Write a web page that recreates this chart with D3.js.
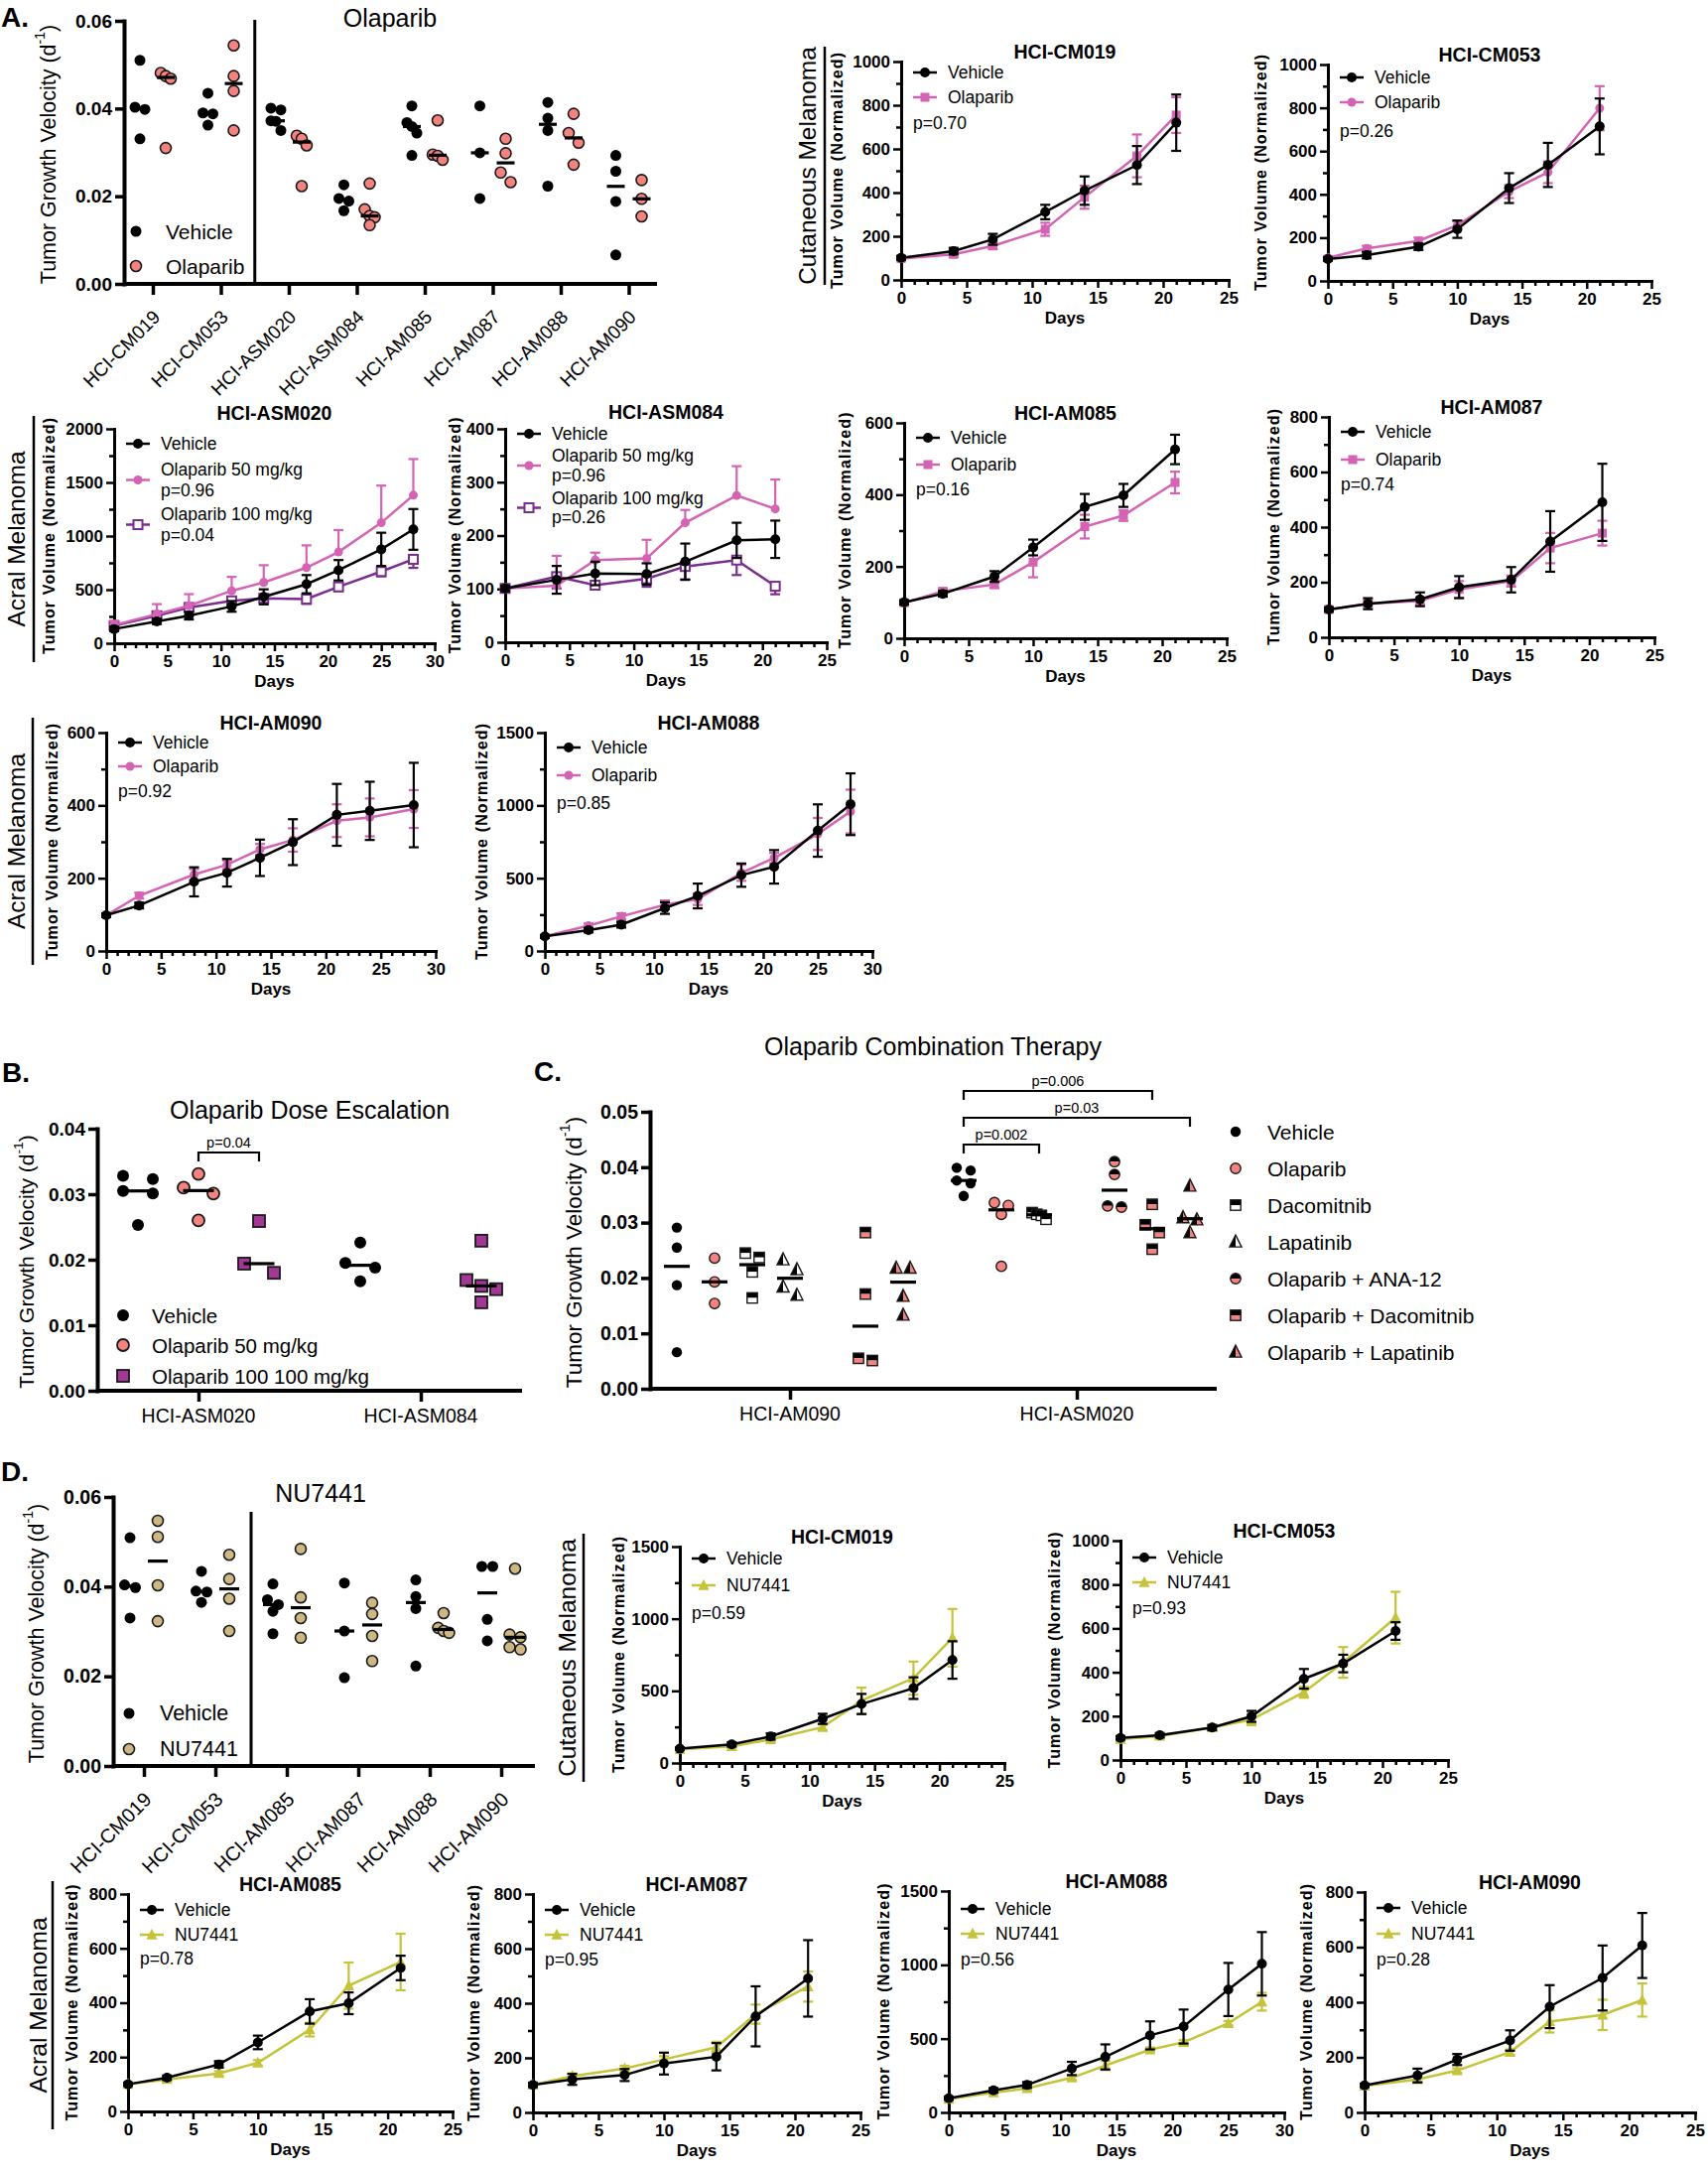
<!DOCTYPE html>
<html>
<head>
<meta charset="utf-8">
<script src="https://cdn.jsdelivr.net/npm/d3@7"></script>
<style>
  body { margin: 0; background: #fff; }
</style>
</head>
<body>
<script>

// ===========================================================================
// Data

// A. growth velocity, Olaparib
var aModels = ['HCI-CM019', 'HCI-CM053', 'HCI-ASM020', 'HCI-ASM084', 'HCI-AM085', 'HCI-AM087', 'HCI-AM088', 'HCI-AM090'];
var aVehicle = [
    [0.0510, 0.0403, 0.0398, 0.0331],
    [0.0435, 0.0390, 0.0388, 0.0362],
    [0.0401, 0.0397, 0.0372, 0.0371, 0.0350],
    [0.0226, 0.0195, 0.0189, 0.0167],
    [0.0406, 0.0368, 0.0359, 0.0344, 0.0293],
    [0.0406, 0.0299, 0.0195],
    [0.0414, 0.0378, 0.0350, 0.0223],
    [0.0293, 0.0257, 0.0188, 0.0066]
];
var aOlaparib = [
    [0.0481, 0.0474, 0.0468, 0.0310],
    [0.0544, 0.0474, 0.0440, 0.0350],
    [0.0338, 0.0331, 0.0316, 0.0223],
    [0.0229, 0.0170, 0.0155, 0.0152, 0.0134],
    [0.0373, 0.0295, 0.0292, 0.0283],
    [0.0331, 0.0298, 0.0254, 0.0232],
    [0.0388, 0.0344, 0.0322, 0.0272],
    [0.0237, 0.0194, 0.0154]
];

// A. tumor volume curves (mean, SEM)
var aCM019Days = [0, 4, 7, 11, 14, 18, 21];
var aCM019Veh = [101, 132, 186, 311, 409, 526, 720];
var aCM019VehErr = [8, 15, 25, 33, 65, 87, 129];
var aCM019Ola = [98, 117, 156, 232, 379, 568, 755];
var aCM019OlaErr = [10, 12, 15, 30, 53, 98, 82];

var aCM053Days = [0, 3, 7, 10, 14, 17, 21];
var aCM053Veh = [101, 119, 158, 239, 429, 536, 714];
var aCM053VehErr = [8, 15, 15, 40, 69, 102, 129];
var aCM053Ola = [107, 150, 185, 257, 413, 502, 798];
var aCM053OlaErr = [8, 12, 15, 20, 30, 50, 102];

var aASM020Days = [0, 4, 7, 11, 14, 18, 21, 25, 28];
var aASM020Veh = [133, 204, 257, 344, 433, 551, 681, 876, 1062];
var aASM020VehErr = [20, 25, 35, 50, 70, 85, 95, 155, 190];
var aASM020Ola50 = [170, 272, 350, 489, 567, 706, 851, 1124, 1381];
var aASM020Ola50Err = [40, 93, 108, 130, 161, 207, 205, 347, 337];
var aASM020Ola100 = [164, 257, 334, 396, 420, 412, 526, 669, 783];
var aASM020Ola100Err = [20, 30, 35, 40, 50, 45, 40, 45, 80];

var aASM084Days = [0, 4, 7, 11, 14, 18, 21];
var aASM084Veh = [101, 117, 129, 128, 151, 191, 193];
var aASM084VehErr = [5, 26, 22, 20, 34, 33, 35];
var aASM084Ola50 = [101, 106, 154, 157, 224, 275, 250];
var aASM084Ola50Err = [5, 56, 14, 35, 24, 55, 55];
var aASM084Ola100 = [101, 123, 107, 119, 142, 154, 105];
var aASM084Ola100Err = [5, 22, 8, 15, 24, 28, 15];

var aAM085Days = [0, 3, 7, 10, 14, 17, 21];
var aAM085Veh = [100, 124, 172, 253, 366, 398, 526];
var aAM085VehErr = [6, 8, 15, 22, 36, 32, 41];
var aAM085Ola = [99, 131, 150, 212, 311, 342, 434];
var aAM085OlaErr = [6, 8, 10, 42, 33, 15, 30];

var aAM087Days = [0, 3, 7, 10, 14, 17, 21];
var aAM087Veh = [101, 122, 138, 182, 209, 348, 490];
var aAM087VehErr = [8, 20, 25, 40, 46, 110, 140];
var aAM087Ola = [101, 122, 132, 174, 204, 324, 378];
var aAM087OlaErr = [8, 12, 12, 30, 20, 55, 45];

var aAM090Days = [0, 3, 8, 11, 14, 17, 21, 24, 28];
var aAM090Veh = [98, 125, 190, 215, 256, 299, 374, 385, 401];
var aAM090VehErr = [5, 8, 40, 38, 50, 63, 85, 80, 116];
var aAM090Ola = [98, 152, 210, 237, 279, 305, 358, 367, 390];
var aAM090OlaErr = [5, 8, 15, 12, 15, 32, 45, 52, 52];

var aAM088Days = [0, 4, 7, 11, 14, 18, 21, 25, 28];
var aAM088Veh = [100, 143, 181, 295, 378, 521, 578, 827, 1008];
var aAM088VehErr = [10, 15, 20, 40, 85, 80, 115, 180, 212];
var aAM088Ola = [100, 174, 238, 317, 356, 537, 639, 804, 958];
var aAM088OlaErr = [10, 15, 20, 30, 40, 55, 35, 110, 150];

// B. dose escalation
var bModels = ['HCI-ASM020', 'HCI-ASM084'];
var bVehicle = [[0.0328, 0.0323, 0.0305, 0.0301, 0.0253], [0.0226, 0.0195, 0.0188, 0.0167]];
var bOla50 = [[0.0331, 0.0310, 0.0301, 0.0260], []];
var bOla100 = [[0.0259, 0.0194, 0.0180], [0.0229, 0.0169, 0.0160, 0.0155, 0.0135]];

// C. combination therapy
var cModels = ['HCI-AM090', 'HCI-ASM020'];
var cVehicle = [[0.0291, 0.0255, 0.0187, 0.0066], [0.0399, 0.0394, 0.0376, 0.0371, 0.0348]];
var cOlaparib = [[0.0236, 0.0193, 0.0154], [0.0336, 0.0331, 0.0315, 0.0221]];
var cDacomitnib = [[0.0245, 0.0237, 0.0211, 0.0164], [0.0318, 0.0315, 0.0313, 0.0306]];
var cLapatinib = [[0.0233, 0.0215, 0.0184, 0.0169], []];
var cOlaAna12 = [[], [0.0410, 0.0387, 0.0330, 0.0328]];
var cOlaDaco = [[0.0282, 0.0171, 0.0055, 0.0051], [0.0333, 0.0296, 0.0282, 0.0252]];
var cOlaLapa = [[0.0218, 0.0218, 0.0167, 0.0133], [0.0366, 0.0309, 0.0305, 0.0282]];
var cPvalues = ['p=0.002', 'p=0.03', 'p=0.006'];

// D. growth velocity, NU7441
var dModels = ['HCI-CM019', 'HCI-CM053', 'HCI-AM085', 'HCI-AM087', 'HCI-AM088', 'HCI-AM090'];
var dVehicle = [
    [0.0509, 0.0404, 0.0398, 0.0330],
    [0.0434, 0.0390, 0.0388, 0.0365],
    [0.0406, 0.0371, 0.0360, 0.0345, 0.0295],
    [0.0408, 0.0301, 0.0197],
    [0.0415, 0.0378, 0.0351, 0.0223],
    [0.0445, 0.0445, 0.0327, 0.0279]
];
var dNU7441 = [
    [0.0547, 0.0511, 0.0403, 0.0323],
    [0.0471, 0.0417, 0.0373, 0.0301],
    [0.0484, 0.0376, 0.0330, 0.0286],
    [0.0364, 0.0339, 0.0290, 0.0234],
    [0.0341, 0.0308, 0.0301, 0.0297],
    [0.0440, 0.0293, 0.0287, 0.0265, 0.0260]
];

// D. tumor volume curves
var dCM019Days = [0, 4, 7, 11, 14, 18, 21];
var dCM019Veh = [99, 129, 184, 306, 409, 519, 714];
var dCM019VehErr = [8, 15, 22, 35, 70, 75, 130];
var dCM019Nu = [94, 115, 163, 248, 432, 588, 868];
var dCM019NuErr = [8, 10, 12, 20, 90, 115, 200];

var dCM053Days = [0, 3, 7, 10, 14, 17, 21];
var dCM053Veh = [101, 113, 148, 199, 370, 440, 588];
var dCM053VehErr = [8, 10, 12, 25, 45, 40, 40];
var dCM053Nu = [95, 109, 148, 184, 309, 445, 649];
var dCM053NuErr = [8, 8, 10, 25, 25, 70, 118];

var dAM085Days = [0, 3, 7, 10, 14, 17, 21];
var dAM085Veh = [100, 124, 173, 254, 368, 398, 528];
var dAM085VehErr = [6, 8, 12, 25, 45, 40, 45];
var dAM085Nu = [100, 118, 140, 179, 301, 463, 550];
var dAM085NuErr = [6, 8, 8, 10, 25, 85, 104];

var dAM087Days = [0, 3, 7, 10, 14, 17, 21];
var dAM087Veh = [101, 121, 137, 179, 204, 352, 491];
var dAM087VehErr = [8, 20, 22, 40, 50, 110, 140];
var dAM087Nu = [101, 133, 161, 194, 239, 360, 461];
var dAM087NuErr = [8, 10, 10, 12, 20, 35, 55];

var dAM088Days = [0, 4, 7, 11, 14, 18, 21, 25, 28];
var dAM088Veh = [96, 150, 186, 298, 376, 522, 582, 833, 1007];
var dAM088VehErr = [10, 15, 20, 45, 85, 95, 115, 180, 215];
var dAM088Nu = [90, 134, 163, 235, 318, 425, 475, 604, 750];
var dAM088NuErr = [8, 10, 12, 15, 30, 15, 15, 15, 60];

var dAM090Days = [0, 4, 7, 11, 14, 18, 21];
var dAM090Veh = [98, 134, 192, 261, 384, 488, 606];
var dAM090VehErr = [6, 25, 20, 37, 78, 118, 118];
var dAM090Nu = [96, 120, 152, 219, 330, 354, 408];
var dAM090NuErr = [6, 8, 8, 10, 40, 55, 60];


// ===========================================================================
// Helpers

var FONT = '"Liberation Sans", Arial, Helvetica, sans-serif';
var PINK = '#d464b3';
var PURPLE = '#7b2d8e';
var OLIVE = '#c4c33a';
var SALMON = '#f4837f';
var SQPURPLE = '#a23796';
var TAN = '#cdb883';
var EDGE = '#1a1a1a';

var svg = d3.select('body').append('svg')
    .attr('width', 1721)
    .attr('height', 2186)
    .attr('font-family', FONT);

function txt(g, x, y, s, size, o) {
    o = o || {};
    var t = g.append('text')
        .attr('x', x).attr('y', y)
        .attr('font-size', size)
        .attr('fill', '#000')
        .text(s);
    if (o.bold) t.attr('font-weight', 'bold');
    if (o.anchor) t.attr('text-anchor', o.anchor);
    if (o.base) t.attr('dominant-baseline', o.base);
    if (o.rotate) t.attr('transform', 'rotate(' + o.rotate + ',' + x + ',' + y + ')');
    return t;
}

function seg(g, x1, y1, x2, y2, color, w) {
    return g.append('line')
        .attr('x1', x1).attr('y1', y1).attr('x2', x2).attr('y2', y2)
        .attr('stroke', color).attr('stroke-width', w);
}

function triPath(cx, cy, r) {
    return 'M' + cx + ',' + (cy - 1.15 * r) + 'L' + (cx + r) + ',' + (cy + 0.85 * r) +
        'L' + (cx - r) + ',' + (cy + 0.85 * r) + 'Z';
}

// draw one marker of a given shape
function drawMarker(g, m, cx, cy) {
    var r = m.r;
    var stroke = m.stroke || 'none';
    var sw = m.sw || 0;
    if (m.shape === 'circle') {
        g.append('circle').attr('cx', cx).attr('cy', cy).attr('r', r)
            .attr('fill', m.fill).attr('stroke', stroke).attr('stroke-width', sw);
    } else if (m.shape === 'square') {
        g.append('rect').attr('x', cx - r).attr('y', cy - r)
            .attr('width', 2 * r).attr('height', 2 * r)
            .attr('fill', m.fill).attr('stroke', stroke).attr('stroke-width', sw);
    } else if (m.shape === 'triangle') {
        g.append('path').attr('d', triPath(cx, cy, r))
            .attr('fill', m.fill).attr('stroke', stroke).attr('stroke-width', sw);
    } else if (m.shape === 'halfCircle') {
        g.append('path').attr('d', 'M' + (cx - r) + ',' + cy + 'A' + r + ',' + r + ' 0 0 1 ' + (cx + r) + ',' + cy + 'Z')
            .attr('fill', '#000');
        g.append('path').attr('d', 'M' + (cx - r) + ',' + cy + 'A' + r + ',' + r + ' 0 0 0 ' + (cx + r) + ',' + cy + 'Z')
            .attr('fill', m.fill);
        g.append('circle').attr('cx', cx).attr('cy', cy).attr('r', r)
            .attr('fill', 'none').attr('stroke', EDGE).attr('stroke-width', 1.4);
    } else if (m.shape === 'halfSquare') {
        g.append('rect').attr('x', cx - r).attr('y', cy - r).attr('width', 2 * r).attr('height', r).attr('fill', '#000');
        g.append('rect').attr('x', cx - r).attr('y', cy).attr('width', 2 * r).attr('height', r).attr('fill', m.fill);
        g.append('rect').attr('x', cx - r).attr('y', cy - r).attr('width', 2 * r).attr('height', 2 * r)
            .attr('fill', 'none').attr('stroke', EDGE).attr('stroke-width', 1.4);
    } else if (m.shape === 'halfTriangle') {
        g.append('path').attr('d', 'M' + cx + ',' + (cy - 1.15 * r) + 'L' + cx + ',' + (cy + 0.85 * r) + 'L' + (cx - r) + ',' + (cy + 0.85 * r) + 'Z')
            .attr('fill', '#000');
        g.append('path').attr('d', 'M' + cx + ',' + (cy - 1.15 * r) + 'L' + (cx + r) + ',' + (cy + 0.85 * r) + 'L' + cx + ',' + (cy + 0.85 * r) + 'Z')
            .attr('fill', m.fill);
        g.append('path').attr('d', triPath(cx, cy, r))
            .attr('fill', 'none').attr('stroke', EDGE).attr('stroke-width', 1.4);
    }
}

// horizontal spread of points that would overlap (symmetric, like a dot plot)
function swarm(vals, y, r, halfW) {
    var idx = vals.map(function (v, i) { return i; })
        .sort(function (a, b) { return vals[b] - vals[a]; });
    var bins = [];
    idx.forEach(function (i) {
        var last = bins[bins.length - 1];
        if (last && Math.abs(y(vals[last[0]]) - y(vals[i])) < 2 * r) last.push(i);
        else bins.push([i]);
    });
    var off = vals.map(function () { return 0; });
    bins.forEach(function (b) {
        var n = b.length;
        if (n > 1) b.forEach(function (i, k) { off[i] = -halfW + 2 * halfW * k / (n - 1); });
    });
    return off;
}

function styleAxis(s, size, tickW, domW) {
    s.attr('font-family', FONT).attr('font-size', size).attr('font-weight', 'bold');
    s.selectAll('.tick line').attr('stroke', '#000').attr('stroke-width', tickW);
    s.selectAll('.tick text').attr('fill', '#000');
    s.select('.domain').attr('stroke', '#000').attr('stroke-width', domW).attr('stroke-linecap', 'square');
}

function volumeLabel(g, cx, cy) {
    g.append('text')
        .attr('transform', 'translate(' + cx + ',' + cy + ') rotate(-90)')
        .attr('text-anchor', 'middle')
        .attr('dominant-baseline', 'central')
        .attr('font-size', 16)
        .attr('font-weight', 'bold')
        .attr('textLength', 238)
        .attr('lengthAdjust', 'spacing')
        .text('Tumor Volume (Normalized)');
}

function velocityLabel(g, cx, cy, size) {
    var t = g.append('text')
        .attr('transform', 'translate(' + cx + ',' + cy + ') rotate(-90)')
        .attr('text-anchor', 'middle')
        .attr('dominant-baseline', 'central')
        .attr('font-size', size);
    t.append('tspan').text('Tumor Growth Velocity (d');
    t.append('tspan').attr('dy', -size * 0.4).attr('font-size', size * 0.65).text('-1');
    t.append('tspan').attr('dy', size * 0.4).text(')');
}

// label for a row of tumor volume panels, with its bar
function rowLabel(x, lineX, y1, y2, label) {
    var g = svg.append('g');
    txt(g, x, (y1 + y2) / 2, label, 24.5, { anchor: 'middle', base: 'central', rotate: -90 });
    seg(g, lineX, y1, lineX, y2, '#000', 2.5);
}

// tumor volume vs days panel
function lineChart(c) {
    var g = svg.append('g');
    var x = d3.scaleLinear().domain([0, c.xMax]).range([c.left, c.right]);
    var y = d3.scaleLinear().domain([0, c.yMax]).range([c.bottom, c.top]);

    // minor ticks
    g.append('g').attr('transform', 'translate(' + c.left + ',0)')
        .call(d3.axisLeft(y).tickValues(d3.range(c.yStep / 2, c.yMax, c.yStep)).tickSize(5).tickFormat(''))
        .call(function (s) { s.select('.domain').remove(); s.selectAll('line').attr('stroke-width', 2.5); });
    g.append('g').attr('transform', 'translate(0,' + c.bottom + ')')
        .call(d3.axisBottom(x).tickValues(d3.range(1, c.xMax).filter(function (d) { return d % 5; })).tickSize(5).tickFormat(''))
        .call(function (s) { s.select('.domain').remove(); s.selectAll('line').attr('stroke-width', 2.5); });

    // major ticks
    g.append('g').attr('transform', 'translate(' + c.left + ',0)')
        .call(d3.axisLeft(y).tickValues(d3.range(0, c.yMax + 1, c.yStep)).tickSize(8).tickSizeOuter(0)
            .tickPadding(3).tickFormat(d3.format('d')))
        .call(styleAxis, 17, 2.5, 3);
    g.append('g').attr('transform', 'translate(0,' + c.bottom + ')')
        .call(d3.axisBottom(x).tickValues(d3.range(0, c.xMax + 1, 5)).tickSize(8).tickSizeOuter(0)
            .tickPadding(4).tickFormat(d3.format('d')))
        .call(styleAxis, 17, 2.5, 3);

    // series, treatment first so Vehicle stays on top
    c.series.slice().reverse().forEach(function (s) {
        var pts = c.days.map(function (d, i) { return { d: d, m: s.mean[i], e: s.err[i] }; });
        g.append('path').datum(pts)
            .attr('fill', 'none').attr('stroke', s.color).attr('stroke-width', 2.5)
            .attr('d', d3.line().x(function (p) { return x(p.d); }).y(function (p) { return y(p.m); }));
        pts.forEach(function (p) {
            var hi = s.dir === 'down' ? p.m : p.m + p.e;
            var lo = s.dir === 'up' ? p.m : p.m - p.e;
            var px = x(p.d);
            seg(g, px, y(lo), px, y(hi), s.color, 2.2);
            if (s.dir !== 'down') seg(g, px - 5, y(hi), px + 5, y(hi), s.color, 2.2);
            if (s.dir !== 'up') seg(g, px - 5, y(lo), px + 5, y(lo), s.color, 2.2);
        });
        pts.forEach(function (p) { drawMarker(g, s.marker, x(p.d), y(p.m)); });
    });

    // legend
    var lx = c.left + 12;
    c.series.forEach(function (s, i) {
        var ty = c.top + c.rows[i];
        var my = s.p ? ty + (c.pRows[i] - c.rows[i]) / 2 : ty;
        seg(g, lx, my, lx + 24, my, s.color, 2.5);
        drawMarker(g, s.marker, lx + 12, my);
        txt(g, c.left + 47, ty, s.label, 17.5, { base: 'central' });
        if (s.p) txt(g, c.left + 47, c.top + c.pRows[i], s.p, 17.5, { base: 'central' });
    });
    if (c.p) txt(g, lx, c.top + c.pRow, c.p, 17.5, { base: 'central' });

    txt(g, (c.left + c.right) / 2, c.top - (c.titleUp || 3), c.title, 19.5, { bold: true, anchor: 'middle' });
    txt(g, (c.left + c.right) / 2, c.bottom + 44, 'Days', 17, { bold: true, anchor: 'middle' });
    volumeLabel(g, c.left - c.labelOff, (c.top + c.bottom) / 2);
}

// growth velocity dot plot panel
function dotChart(c) {
    var g = svg.append('g');
    var y = d3.scaleLinear().domain([0, c.yMax]).range([c.bottom, c.top]);
    var x = d3.scalePoint().domain(c.categories).range([c.firstTick, c.lastTick]);

    g.append('g').attr('transform', 'translate(' + c.left + ',0)')
        .call(d3.axisLeft(y).tickValues(c.yTicks).tickSize(9).tickSizeOuter(0).tickPadding(3).tickFormat(d3.format('.2f')))
        .call(styleAxis, c.tickFont, 3.5, 4);
    g.append('g').attr('transform', 'translate(0,' + c.bottom + ')')
        .call(d3.axisBottom(x).tickSize(11).tickSizeOuter(0).tickFormat(''))
        .call(function (s) { s.select('.domain').remove(); s.selectAll('line').attr('stroke', '#000').attr('stroke-width', 3.5); });
    seg(g, c.left, c.bottom, c.right, c.bottom, '#000', 4);

    if (c.divider) {
        var dx = (x(c.categories[c.divider - 1]) + x(c.categories[c.divider])) / 2;
        seg(g, dx, c.dividerTop, dx, c.bottom, '#000', 3);
    }

    // category labels
    c.categories.forEach(function (cat) {
        if (c.rotate) {
            var px = x(cat) + 4, py = c.bottom + 30;
            g.append('text')
                .attr('transform', 'translate(' + px + ',' + py + ') rotate(-45)')
                .attr('text-anchor', 'end').attr('dominant-baseline', 'central')
                .attr('font-size', c.catFont).text(cat);
        } else {
            txt(g, x(cat), c.bottom + 32, cat, c.catFont, { anchor: 'middle' });
        }
    });

    // points and medians
    c.groups.forEach(function (grp) {
        c.categories.forEach(function (cat, ci) {
            var vals = grp.values[ci];
            if (!vals.length) return;
            var cx = x(cat) + grp.offset;
            var off = swarm(vals, y, grp.marker.r, c.halfW);
            vals.forEach(function (v, i) { drawMarker(g, grp.marker, cx + off[i], y(v)); });
            var md = y(d3.median(vals));
            seg(g, cx - c.medW / 2, md, cx + c.medW / 2, md, '#000', 3.2);
        });
    });

    // legend
    c.groups.forEach(function (grp, i) {
        var ly = c.legend.rows[i];
        drawMarker(g, grp.marker, c.legend.x, ly);
        txt(g, c.legend.textX, ly, grp.label, c.legend.font, { base: 'central' });
    });

    if (c.title) txt(g, c.title.x, c.title.y, c.title.text, 25, { anchor: 'middle' });
    velocityLabel(g, c.yLabelX, (c.top + c.bottom) / 2 + 2, c.yLabelFont);
    return { g: g, x: x, y: y };
}

function bracket(g, x1, x2, by, label) {
    g.append('path')
        .attr('d', 'M' + x1 + ',' + (by + 9) + 'V' + by + 'H' + x2 + 'V' + (by + 9))
        .attr('fill', 'none').attr('stroke', '#000').attr('stroke-width', 2.2);
    txt(g, (x1 + x2) / 2, by - 5, label, 14.5, { anchor: 'middle' });
}


// ===========================================================================
// Panel letters

txt(svg, 1, 27, 'A.', 28, { bold: true });
txt(svg, 2, 1090, 'B.', 28, { bold: true });
txt(svg, 538, 1089, 'C.', 28, { bold: true });
txt(svg, 1, 1492, 'D.', 28, { bold: true });


// ===========================================================================
// A. dot plot

var circV = { shape: 'circle', r: 5.5, fill: '#000' };
dotChart({
    left: 125, right: 662, top: 21, bottom: 286,
    yMax: 0.06, yTicks: [0, 0.02, 0.04, 0.06], tickFont: 19,
    categories: aModels, firstTick: 154, lastTick: 633.5,
    rotate: true, catFont: 19,
    divider: 2, dividerTop: 20,
    halfW: 5, medW: 18,
    groups: [
        { label: 'Vehicle', values: aVehicle, offset: -13, marker: circV },
        { label: 'Olaparib', values: aOlaparib, offset: 13, marker: { shape: 'circle', r: 5.5, fill: SALMON, stroke: EDGE, sw: 1.6 } }
    ],
    legend: { x: 137, textX: 167, rows: [233, 268], font: 21 },
    title: { x: 393, y: 27, text: 'Olaparib' },
    yLabelX: 49, yLabelFont: 21.5
});

// A. tumor volume curves

var mVeh = { shape: 'circle', r: 5, fill: '#000' };
var mOlaSq = { shape: 'square', r: 4.5, fill: PINK };
var mOlaCi = { shape: 'circle', r: 4.5, fill: PINK };
var mOla100 = { shape: 'square', r: 4.5, fill: '#fff', stroke: PURPLE, sw: 2 };
var mNu = { shape: 'triangle', r: 5.5, fill: OLIVE };

rowLabel(813, 831, 47, 287, 'Cutaneous Melanoma');
rowLabel(16, 34, 419, 667, 'Acral Melanoma');
rowLabel(16, 33, 723, 972, 'Acral Melanoma');

lineChart({
    title: 'HCI-CM019', left: 908, right: 1238, top: 62, bottom: 282,
    xMax: 25, yMax: 1000, yStep: 200, labelOff: 65,
    days: aCM019Days,
    series: [
        { label: 'Vehicle', mean: aCM019Veh, err: aCM019VehErr, color: '#000', marker: mVeh },
        { label: 'Olaparib', mean: aCM019Ola, err: aCM019OlaErr, color: PINK, marker: mOlaSq }
    ],
    rows: [11, 36], p: 'p=0.70', pRow: 62
});

lineChart({
    title: 'HCI-CM053', left: 1338, right: 1664, top: 65, bottom: 283,
    xMax: 25, yMax: 1000, yStep: 200, labelOff: 68,
    days: aCM053Days,
    series: [
        { label: 'Vehicle', mean: aCM053Veh, err: aCM053VehErr, color: '#000', marker: mVeh },
        { label: 'Olaparib', mean: aCM053Ola, err: aCM053OlaErr, color: PINK, marker: mOlaCi }
    ],
    rows: [13, 38], p: 'p=0.26', pRow: 67
});

lineChart({
    title: 'HCI-ASM020', titleUp: 9, left: 115, right: 438, top: 432, bottom: 648,
    xMax: 30, yMax: 2000, yStep: 500, labelOff: 66,
    days: aASM020Days,
    series: [
        { label: 'Vehicle', mean: aASM020Veh, err: aASM020VehErr, color: '#000', marker: mVeh },
        { label: 'Olaparib 50 mg/kg', p: 'p=0.96', mean: aASM020Ola50, err: aASM020Ola50Err, color: PINK, marker: mOlaCi, dir: 'up' },
        { label: 'Olaparib 100 mg/kg', p: 'p=0.04', mean: aASM020Ola100, err: aASM020Ola100Err, color: PURPLE, marker: mOla100, dir: 'down' }
    ],
    rows: [15, 41, 86], pRows: [0, 62, 107]
});

lineChart({
    title: 'HCI-ASM084', titleUp: 10, left: 509, right: 833, top: 432, bottom: 647,
    xMax: 25, yMax: 400, yStep: 100, labelOff: 51,
    days: aASM084Days,
    series: [
        { label: 'Vehicle', mean: aASM084Veh, err: aASM084VehErr, color: '#000', marker: mVeh },
        { label: 'Olaparib 50 mg/kg', p: 'p=0.96', mean: aASM084Ola50, err: aASM084Ola50Err, color: PINK, marker: mOlaCi, dir: 'up' },
        { label: 'Olaparib 100 mg/kg', p: 'p=0.26', mean: aASM084Ola100, err: aASM084Ola100Err, color: PURPLE, marker: mOla100, dir: 'down' }
    ],
    rows: [5, 27, 70], pRows: [0, 47, 89]
});

lineChart({
    title: 'HCI-AM085', left: 911, right: 1236, top: 426, bottom: 643,
    xMax: 25, yMax: 600, yStep: 200, labelOff: 60,
    days: aAM085Days,
    series: [
        { label: 'Vehicle', mean: aAM085Veh, err: aAM085VehErr, color: '#000', marker: mVeh },
        { label: 'Olaparib', mean: aAM085Ola, err: aAM085OlaErr, color: PINK, marker: mOlaSq }
    ],
    rows: [15, 42], p: 'p=0.16', pRow: 67
});

lineChart({
    title: 'HCI-AM087', left: 1339, right: 1667, top: 420, bottom: 642,
    xMax: 25, yMax: 800, yStep: 200, labelOff: 56,
    days: aAM087Days,
    series: [
        { label: 'Vehicle', mean: aAM087Veh, err: aAM087VehErr, color: '#000', marker: mVeh },
        { label: 'Olaparib', mean: aAM087Ola, err: aAM087OlaErr, color: PINK, marker: mOlaSq }
    ],
    rows: [15, 43], p: 'p=0.74', pRow: 68
});

lineChart({
    title: 'HCI-AM090', left: 107, right: 439, top: 738, bottom: 958,
    xMax: 30, yMax: 600, yStep: 200, labelOff: 55,
    days: aAM090Days,
    series: [
        { label: 'Vehicle', mean: aAM090Veh, err: aAM090VehErr, color: '#000', marker: mVeh },
        { label: 'Olaparib', mean: aAM090Ola, err: aAM090OlaErr, color: PINK, marker: mOlaCi }
    ],
    rows: [10, 34], p: 'p=0.92', pRow: 59
});

lineChart({
    title: 'HCI-AM088', left: 549, right: 879, top: 738, bottom: 958,
    xMax: 30, yMax: 1500, yStep: 500, labelOff: 64,
    days: aAM088Days,
    series: [
        { label: 'Vehicle', mean: aAM088Veh, err: aAM088VehErr, color: '#000', marker: mVeh },
        { label: 'Olaparib', mean: aAM088Ola, err: aAM088OlaErr, color: PINK, marker: mOlaCi }
    ],
    rows: [15, 43], p: 'p=0.85', pRow: 71
});


// ===========================================================================
// B. dose escalation

var bChart = dotChart({
    left: 98, right: 526, top: 1137, bottom: 1401,
    yMax: 0.04, yTicks: [0, 0.01, 0.02, 0.03, 0.04], tickFont: 19,
    categories: bModels, firstTick: 200, lastTick: 424,
    rotate: false, catFont: 19.5,
    halfW: 15, medW: 31,
    groups: [
        { label: 'Vehicle', values: bVehicle, offset: -61, marker: { shape: 'circle', r: 6, fill: '#000' } },
        { label: 'Olaparib 50 mg/kg', values: bOla50, offset: 0, marker: { shape: 'circle', r: 6, fill: SALMON, stroke: EDGE, sw: 1.8 } },
        { label: 'Olaparib 100 100 mg/kg', values: bOla100, offset: 61, marker: { shape: 'square', r: 6, fill: SQPURPLE, stroke: EDGE, sw: 1.8 } }
    ],
    legend: { x: 124, textX: 153, rows: [1325, 1355, 1386], font: 20.5 },
    title: { x: 312, y: 1127, text: 'Olaparib Dose Escalation' },
    yLabelX: 26, yLabelFont: 21
});
bracket(bChart.g, bChart.x(bModels[0]), bChart.x(bModels[0]) + 61, 1161, 'p=0.04');


// ===========================================================================
// C. combination therapy

var cm = function (shape, fill) {
    return { shape: shape, r: shape === 'triangle' || shape === 'halfTriangle' ? 6 : 5.2, fill: fill, stroke: EDGE, sw: 1.4 };
};
var cChart = dotChart({
    left: 655, right: 1226, top: 1120, bottom: 1399,
    yMax: 0.05, yTicks: [0, 0.01, 0.02, 0.03, 0.04, 0.05], tickFont: 19.5,
    categories: cModels, firstTick: 796, lastTick: 1085,
    rotate: false, catFont: 19.5,
    halfW: 7, medW: 26,
    groups: [
        { label: 'Vehicle', values: cVehicle, offset: -114, marker: { shape: 'circle', r: 5.2, fill: '#000' } },
        { label: 'Olaparib', values: cOlaparib, offset: -76, marker: cm('circle', SALMON) },
        { label: 'Dacomitnib', values: cDacomitnib, offset: -38, marker: cm('halfSquare', '#fff') },
        { label: 'Lapatinib', values: cLapatinib, offset: 0, marker: cm('halfTriangle', '#fff') },
        { label: 'Olaparib + ANA-12', values: cOlaAna12, offset: 38, marker: cm('halfCircle', SALMON) },
        { label: 'Olaparib + Dacomitnib', values: cOlaDaco, offset: 76, marker: cm('halfSquare', SALMON) },
        { label: 'Olaparib + Lapatinib', values: cOlaLapa, offset: 114, marker: cm('halfTriangle', SALMON) }
    ],
    legend: { x: 1245, textX: 1277, rows: [1140, 1177, 1214, 1251, 1288, 1325, 1362], font: 21 },
    title: { x: 940, y: 1063, text: 'Olaparib Combination Therapy' },
    yLabelX: 578, yLabelFont: 22.5
});
(function () {
    var base = cChart.x(cModels[1]);
    var vx = base - 114;
    bracket(cChart.g, vx, base - 38, 1153, cPvalues[0]);
    bracket(cChart.g, vx, base + 114, 1126, cPvalues[1]);
    bracket(cChart.g, vx, base + 76, 1099, cPvalues[2]);
}());


// ===========================================================================
// D. dot plot

dotChart({
    left: 114, right: 539, top: 1508, bottom: 1779,
    yMax: 0.06, yTicks: [0, 0.02, 0.04, 0.06], tickFont: 19.5,
    categories: dModels, firstTick: 145, lastTick: 505,
    rotate: true, catFont: 20,
    divider: 2, dividerTop: 1523,
    halfW: 5.5, medW: 20,
    groups: [
        { label: 'Vehicle', values: dVehicle, offset: -14, marker: circV },
        { label: 'NU7441', values: dNU7441, offset: 14, marker: { shape: 'circle', r: 5.5, fill: TAN, stroke: EDGE, sw: 1.6 } }
    ],
    legend: { x: 130, textX: 161, rows: [1726, 1762], font: 21.5 },
    title: { x: 323, y: 1513, text: 'NU7441' },
    yLabelX: 37, yLabelFont: 21.5
});

// D. tumor volume curves

rowLabel(571, 588, 1545, 1795, 'Cutaneous Melanoma');
rowLabel(38, 53, 1895, 2145, 'Acral Melanoma');

lineChart({
    title: 'HCI-CM019', left: 685, right: 1012, top: 1558, bottom: 1776,
    xMax: 25, yMax: 1500, yStep: 500, labelOff: 62,
    days: dCM019Days,
    series: [
        { label: 'Vehicle', mean: dCM019Veh, err: dCM019VehErr, color: '#000', marker: mVeh },
        { label: 'NU7441', mean: dCM019Nu, err: dCM019NuErr, color: OLIVE, marker: mNu }
    ],
    rows: [12, 39], p: 'p=0.59', pRow: 67
});

lineChart({
    title: 'HCI-CM053', left: 1129, right: 1459, top: 1552, bottom: 1773,
    xMax: 25, yMax: 1000, yStep: 200, labelOff: 67,
    days: dCM053Days,
    series: [
        { label: 'Vehicle', mean: dCM053Veh, err: dCM053VehErr, color: '#000', marker: mVeh },
        { label: 'NU7441', mean: dCM053Nu, err: dCM053NuErr, color: OLIVE, marker: mNu }
    ],
    rows: [17, 42], p: 'p=0.93', pRow: 68
});

lineChart({
    title: 'HCI-AM085', left: 129, right: 456, top: 1908, bottom: 2127,
    xMax: 25, yMax: 800, yStep: 200, labelOff: 57,
    days: dAM085Days,
    series: [
        { label: 'Vehicle', mean: dAM085Veh, err: dAM085VehErr, color: '#000', marker: mVeh },
        { label: 'NU7441', mean: dAM085Nu, err: dAM085NuErr, color: OLIVE, marker: mNu }
    ],
    rows: [16, 41], p: 'p=0.78', pRow: 65
});

lineChart({
    title: 'HCI-AM087', left: 537, right: 867, top: 1908, bottom: 2128,
    xMax: 25, yMax: 800, yStep: 200, labelOff: 60,
    days: dAM087Days,
    series: [
        { label: 'Vehicle', mean: dAM087Veh, err: dAM087VehErr, color: '#000', marker: mVeh },
        { label: 'NU7441', mean: dAM087Nu, err: dAM087NuErr, color: OLIVE, marker: mNu }
    ],
    rows: [16, 41], p: 'p=0.95', pRow: 66
});

lineChart({
    title: 'HCI-AM088', left: 956, right: 1294, top: 1905, bottom: 2128,
    xMax: 30, yMax: 1500, yStep: 500, labelOff: 66,
    days: dAM088Days,
    series: [
        { label: 'Vehicle', mean: dAM088Veh, err: dAM088VehErr, color: '#000', marker: mVeh },
        { label: 'NU7441', mean: dAM088Nu, err: dAM088NuErr, color: OLIVE, marker: mNu }
    ],
    rows: [18, 43], p: 'p=0.56', pRow: 69
});

lineChart({
    title: 'HCI-AM090', left: 1375, right: 1708, top: 1906, bottom: 2128,
    xMax: 25, yMax: 800, yStep: 200, labelOff: 59,
    days: dAM090Days,
    series: [
        { label: 'Vehicle', mean: dAM090Veh, err: dAM090VehErr, color: '#000', marker: mVeh },
        { label: 'NU7441', mean: dAM090Nu, err: dAM090NuErr, color: OLIVE, marker: mNu }
    ],
    rows: [16, 42], p: 'p=0.28', pRow: 68
});

</script>
</body>
</html>
